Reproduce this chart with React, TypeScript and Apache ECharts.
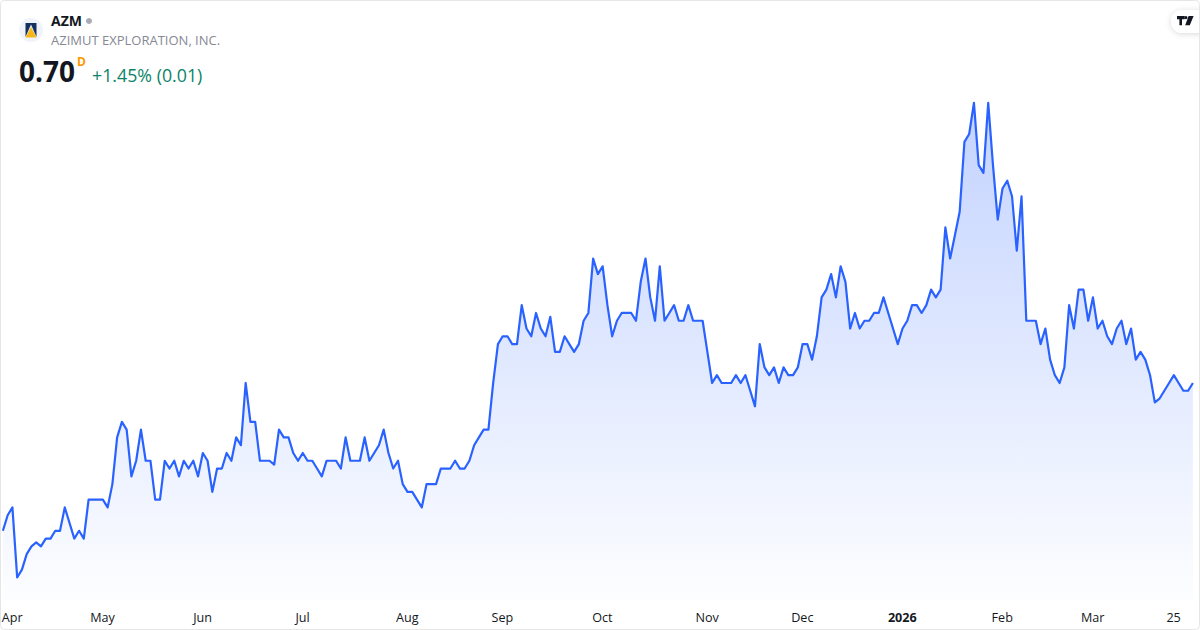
import React, { useEffect, useRef } from "react";
import * as echarts from "echarts";

const prices = [
  0.51, 0.53, 0.54, 0.45, 0.46, 0.48, 0.49, 0.495, 0.49, 0.5,
  0.5, 0.51, 0.51, 0.54, 0.52, 0.5, 0.51, 0.5, 0.55, 0.55,
  0.55, 0.55, 0.54, 0.57, 0.63, 0.65, 0.64, 0.58, 0.6, 0.64,
  0.6, 0.6, 0.55, 0.55, 0.6, 0.59, 0.6, 0.58, 0.6, 0.59,
  0.6, 0.58, 0.61, 0.6, 0.56, 0.59, 0.59, 0.61, 0.6, 0.63,
  0.62, 0.7, 0.65, 0.65, 0.6, 0.6, 0.6, 0.595, 0.64, 0.63,
  0.63, 0.61, 0.6, 0.61, 0.6, 0.6, 0.59, 0.58, 0.6, 0.6,
  0.6, 0.59, 0.63, 0.6, 0.6, 0.6, 0.63, 0.6, 0.61, 0.62,
  0.64, 0.61, 0.59, 0.6, 0.57, 0.56, 0.56, 0.55, 0.54, 0.57,
  0.57, 0.57, 0.59, 0.59, 0.59, 0.6, 0.59, 0.59, 0.6, 0.62,
  0.63, 0.64, 0.64, 0.7, 0.75, 0.76, 0.76, 0.75, 0.75, 0.8,
  0.77, 0.76, 0.79, 0.77, 0.76, 0.785, 0.74, 0.74, 0.76, 0.75,
  0.74, 0.75, 0.78, 0.79, 0.86, 0.84, 0.85, 0.8, 0.76, 0.78,
  0.79, 0.79, 0.79, 0.78, 0.83, 0.86, 0.81, 0.78, 0.85, 0.78,
  0.79, 0.8, 0.78, 0.78, 0.8, 0.78, 0.78, 0.78, 0.74, 0.7,
  0.71, 0.7, 0.7, 0.7, 0.71, 0.7, 0.71, 0.69, 0.67, 0.75,
  0.72, 0.71, 0.72, 0.7, 0.72, 0.71, 0.71, 0.72, 0.75, 0.75,
  0.73, 0.76, 0.81, 0.82, 0.84, 0.81, 0.85, 0.83, 0.77, 0.79,
  0.77, 0.78, 0.78, 0.79, 0.79, 0.81, 0.79, 0.77, 0.75, 0.77,
  0.78, 0.8, 0.8, 0.79, 0.8, 0.82, 0.81, 0.82, 0.9, 0.86,
  0.89, 0.92, 1.01, 1.02, 1.06, 0.98, 0.97, 1.06, 0.98, 0.91,
  0.95, 0.96, 0.94, 0.87, 0.94, 0.78, 0.78, 0.78, 0.75, 0.77,
  0.73, 0.71, 0.7, 0.72, 0.8, 0.77, 0.82, 0.82, 0.78, 0.81,
  0.77, 0.78, 0.76, 0.75, 0.77, 0.78, 0.75, 0.77, 0.73, 0.74,
  0.73, 0.71, 0.675, 0.68, 0.69, 0.7, 0.71, 0.7, 0.69, 0.69,
  0.7,
];

const tickIndexes = [2, 21, 42, 63, 85, 105, 126, 148, 168, 189, 210, 229, 246];
const tickLabels = ["Apr", "May", "Jun", "Jul", "Aug", "Sep", "Oct", "Nov", "Dec", "2026", "Feb", "Mar", "25"];
const boldTick = "2026";

const FONT = "'Open Sans', 'Noto Sans', sans-serif";

echarts.graphic.registerShape(
  "tvLogo",
  echarts.graphic.extendPath(
    "M0 0H7.6V3.2H5V9.2H2.4V3.2H0ZM11.6 0H16.6L12.8 9.2H8.2ZM8.9 3.2a1.6 1.6 0 1 0 0-3.2 1.6 1.6 0 0 0 0 3.2Z",
    {}
  )
);

export default function App() {
  const ref = useRef<HTMLDivElement>(null);

  useEffect(() => {
    const chart = echarts.init(ref.current!, undefined, { renderer: "svg" });
    const categories = prices.map((_, i) => String(i));
    chart.setOption({
      animation: false,
      backgroundColor: "#ffffff",
      grid: { left: 2.9, right: 7.1, top: 71.8, bottom: 29.2, outerBoundsMode: "none" },
      xAxis: {
        type: "category",
        data: categories,
        boundaryGap: false,
        axisLine: { show: false },
        axisTick: { show: false },
        splitLine: { show: false },
        axisLabel: {
          interval: (i: number) => tickIndexes.includes(i),
          margin: 10.5,
          padding: [0, 0.5, 0, 0],
          fontFamily: FONT,
          fontSize: 12.6,
          color: "#131722",
          formatter: (v: string) => {
            const label = tickLabels[tickIndexes.indexOf(Number(v))] ?? "";
            return label === boldTick ? `{b|${label}}` : label;
          },
          rich: { b: { fontFamily: FONT, fontSize: 12.6, fontWeight: 700, color: "#131722" } },
        },
      },
      yAxis: { type: "value", min: 0.42, max: 1.1, show: false, splitLine: { show: false } },
      series: [
        {
          type: "line",
          data: prices,
          showSymbol: false,
          smooth: false,
          lineStyle: { color: "#2962ff", width: 2.2, join: "round" },
          areaStyle: {
            opacity: 1,
            color: new echarts.graphic.LinearGradient(0, 0, 0, 1, [
              { offset: 0, color: "rgba(41,98,255,0.28)" },
              { offset: 1, color: "rgba(41,98,255,0.01)" },
            ]),
          },
        },
      ],
      graphic: [
        { type: "rect", shape: { x: 0.5, y: 0.5, width: 1199, height: 629, r: 4 }, style: { fill: "none", stroke: "#e6e6e6", lineWidth: 1 }, z: 10 },
        { type: "circle", shape: { cx: 31, cy: 30, r: 12 }, style: { fill: "#f0f3fa" } },
        { type: "polygon", shape: { points: [[25.5, 23], [36.5, 23], [36.5, 36.5], [25.5, 36.5]] }, style: { fill: "#14305f" } },
        { type: "polygon", shape: { points: [[31, 24.5], [36.5, 37], [25.5, 37]] }, style: { fill: "#e9eefb" } },
        { type: "polygon", shape: { points: [[31, 27], [36.5, 37.5], [25.5, 37.5]] }, style: { fill: "#f7b718" } },
        { type: "text", x: 51, y: 20.5, style: { text: "AZM", font: `700 14px ${FONT}`, fill: "#131722", verticalAlign: "middle" } },
        { type: "circle", shape: { cx: 89, cy: 21, r: 3 }, style: { fill: "#a8abb3" } },
        { type: "text", x: 51, y: 40, style: { text: "AZIMUT EXPLORATION, INC.", font: `13px ${FONT}`, fill: "#868993", verticalAlign: "middle" } },
        { type: "text", x: 19, y: 71, style: { text: "0.70", font: `700 28px ${FONT}`, fill: "#131722", verticalAlign: "middle" } },
        { type: "text", x: 77, y: 61, style: { text: "D", font: `700 12px ${FONT}`, fill: "#ff9800", verticalAlign: "middle" } },
        { type: "text", x: 92, y: 74.5, style: { text: "+1.45% (0.01)", font: `17.8px ${FONT}`, fill: "#0a8468", verticalAlign: "middle" } },
        { type: "rect", shape: { x: 1171, y: 10, width: 40, height: 23, r: 11.5 }, style: { fill: "#ffffff", shadowBlur: 6, shadowColor: "rgba(0,0,0,0.15)", shadowOffsetY: 1 } },
        { type: "tvLogo", x: 1177, y: 16, style: { fill: "#131722" } },
      ],
    });
    return () => chart.dispose();
  }, []);

  return <div ref={ref} style={{ position: "absolute", left: 0, top: 0, width: 1200, height: 630 }} />;
}
